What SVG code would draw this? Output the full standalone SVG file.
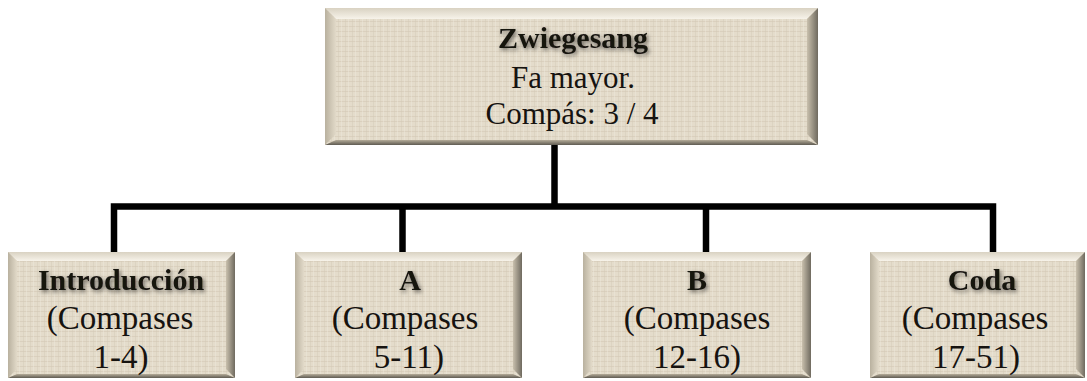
<svg xmlns="http://www.w3.org/2000/svg" width="1087" height="381" viewBox="0 0 1087 381">
<defs>
<pattern id="linen" width="7" height="5" patternUnits="userSpaceOnUse">
<rect width="7" height="5" fill="#e4dccb"/>
<path d="M0 1.5H7" stroke="#d0c6b3" stroke-width="0.8" opacity="0.7"/>
<path d="M2.5 0V5" stroke="#d3c9b6" stroke-width="0.7" opacity="0.6"/>
<path d="M5.5 0V5" stroke="#f0eadd" stroke-width="0.6" opacity="0.7"/>
</pattern>
<linearGradient id="gR" x1="0" y1="0" x2="1" y2="0">
<stop offset="0" stop-color="#c9c0ad"/>
<stop offset="1" stop-color="#6f6a5f"/>
</linearGradient>
<linearGradient id="gB" x1="0" y1="0" x2="0" y2="1">
<stop offset="0" stop-color="#b5ac99"/>
<stop offset="1" stop-color="#5f5b52"/>
</linearGradient>
<linearGradient id="gT" x1="0" y1="0" x2="0" y2="1">
<stop offset="0" stop-color="#d9d2c2"/>
<stop offset="1" stop-color="#f7f3ea"/>
</linearGradient>
<linearGradient id="gL" x1="0" y1="0" x2="1" y2="0">
<stop offset="0" stop-color="#b9b19f"/>
<stop offset="1" stop-color="#e2dac9"/>
</linearGradient>
<filter id="sh" x="-10%" y="-30%" width="120%" height="160%">
<feDropShadow dx="1.5" dy="2" stdDeviation="2" flood-color="#000" flood-opacity="0.55"/>
</filter>
</defs>
<style>
.face{fill:url(#linen)}
.bt{fill:url(#gT)}
.br{fill:url(#gR)}
.bb{fill:url(#gB)}
.bl{fill:url(#gL)}
text{font-family:"Liberation Serif","Times New Roman",serif;fill:#161310;text-anchor:middle}
.ttl{font-size:30px;font-weight:bold;filter:url(#sh)}
.top{font-size:31px}
.sub{font-size:33px}
.conn{fill:none;stroke:#000;stroke-width:6.5;stroke-linejoin:miter;stroke-linecap:butt}
</style>

<g id="connectors">
<path class="conn" d="M554.5 145V206.5"/>
<path class="conn" d="M114 252V206.5H993V252"/>
<path class="conn" d="M402.5 206.5V252"/>
<path class="conn" d="M706 206.5V252"/>
</g>

<g id="node-zwiegesang">
<rect class="face" x="325" y="8" width="493" height="137"/>
<polygon class="bt" points="325,8 818,8 807,19 336,19"/>
<polygon class="bl" points="325,8 336,19 336,134 325,145"/>
<polygon class="br" points="818,8 818,145 807,134 807,19"/>
<polygon class="bb" points="325,145 818,145 807,140 336,140"/>
<text class="ttl" x="573" y="48">Zwiegesang</text>
<text class="top" x="573" y="88">Fa mayor.</text>
<text class="top" x="572" y="124">Compás: 3 / 4</text>
</g>

<g id="node-introduccion">
<rect class="face" x="8" y="252" width="227" height="126"/>
<polygon class="bt" points="8,252 235,252 226,261 17,261"/>
<polygon class="bl" points="8,252 17,261 17,369 8,378"/>
<polygon class="br" points="235,252 235,378 226,369 226,261"/>
<polygon class="bb" points="8,378 235,378 226,374 17,374"/>
<text class="ttl" x="121" y="290">Introducción</text>
<text class="sub" x="120" y="329">(Compases</text>
<text class="sub" x="121" y="368">1-4)</text>
</g>

<g id="node-a">
<rect class="face" x="295" y="252" width="227" height="126"/>
<polygon class="bt" points="295,252 522,252 513,261 304,261"/>
<polygon class="bl" points="295,252 304,261 304,369 295,378"/>
<polygon class="br" points="522,252 522,378 513,369 513,261"/>
<polygon class="bb" points="295,378 522,378 513,374 304,374"/>
<text class="ttl" x="410" y="290">A</text>
<text class="sub" x="405" y="329">(Compases</text>
<text class="sub" x="409" y="368">5-11)</text>
</g>

<g id="node-b">
<rect class="face" x="583" y="252" width="228" height="126"/>
<polygon class="bt" points="583,252 811,252 802,261 592,261"/>
<polygon class="bl" points="583,252 592,261 592,369 583,378"/>
<polygon class="br" points="811,252 811,378 802,369 802,261"/>
<polygon class="bb" points="583,378 811,378 802,374 592,374"/>
<text class="ttl" x="697" y="290">B</text>
<text class="sub" x="697" y="329">(Compases</text>
<text class="sub" x="697" y="368">12-16)</text>
</g>

<g id="node-coda">
<rect class="face" x="870" y="252" width="215" height="126"/>
<polygon class="bt" points="870,252 1085,252 1076,261 879,261"/>
<polygon class="bl" points="870,252 879,261 879,369 870,378"/>
<polygon class="br" points="1085,252 1085,378 1076,369 1076,261"/>
<polygon class="bb" points="870,378 1085,378 1076,374 879,374"/>
<text class="ttl" x="982" y="290">Coda</text>
<text class="sub" x="975" y="329">(Compases</text>
<text class="sub" x="976" y="368">17-51)</text>
</g>
</svg>
